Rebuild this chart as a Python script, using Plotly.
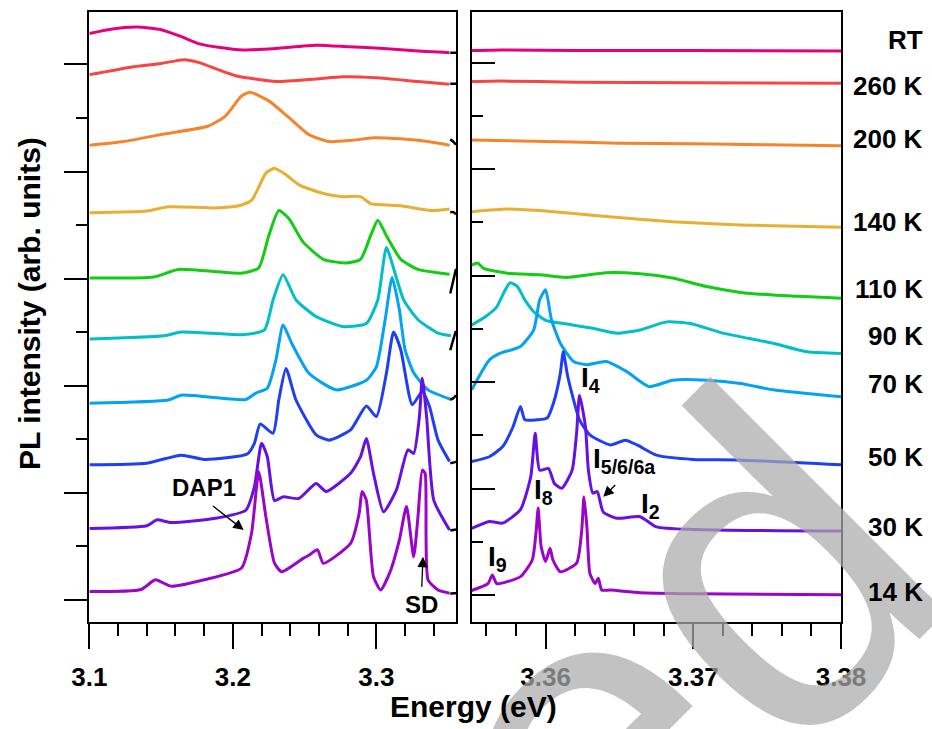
import plotly.graph_objects as go

# ---------------------------------------------------------------------------
# Temperature-dependent PL spectra, vertically stacked (arb. units).
# Low-energy window 3.10-3.355 eV and near-band-edge window 3.355-3.38 eV.
# ---------------------------------------------------------------------------
labels = ["RT", "260 K", "200 K", "140 K", "110 K", "90 K", "70 K", "50 K", "30 K", "14 K"]
colors = ["#E6007E", "#FA4343", "#F5842C", "#E9AF33", "#14CC14",
          "#00BFC6", "#03A3F2", "#1F3FF5", "#6610E2", "#9A05C9"]

# --- low-energy window ------------------------------------------------------
e_rt_lo = [3.100, 3.115, 3.133, 3.150, 3.164, 3.176, 3.190, 3.207, 3.230, 3.258, 3.281, 3.305, 3.329, 3.351]
pl_rt_lo = [10.58, 10.66, 10.70, 10.65, 10.52, 10.39, 10.32, 10.27, 10.30, 10.36, 10.33, 10.30, 10.25, 10.22]

e_260_lo = [3.100, 3.129, 3.150, 3.166, 3.176, 3.190, 3.202, 3.230, 3.258, 3.277, 3.300, 3.329, 3.351]
pl_260_lo = [9.81, 9.95, 10.02, 10.09, 10.04, 9.90, 9.79, 9.68, 9.73, 9.77, 9.75, 9.68, 9.63]

e_200_lo = [3.100, 3.124, 3.152, 3.183, 3.195, 3.206, 3.212, 3.225, 3.239, 3.253, 3.267, 3.282, 3.298, 3.317, 3.336, 3.351]
pl_200_lo = [8.49, 8.56, 8.70, 8.85, 9.04, 9.41, 9.48, 9.32, 9.01, 8.69, 8.56, 8.58, 8.63, 8.61, 8.56, 8.49]

e_140_lo = [3.100, 3.140, 3.155, 3.188, 3.204, 3.213, 3.223, 3.229, 3.237, 3.246, 3.263, 3.277, 3.289, 3.296, 3.317, 3.338, 3.351]
pl_140_lo = [7.23, 7.26, 7.34, 7.32, 7.36, 7.46, 7.97, 8.06, 7.94, 7.75, 7.59, 7.53, 7.53, 7.40, 7.36, 7.27, 7.30]

e_110_lo = [3.100, 3.145, 3.162, 3.206, 3.218, 3.225, 3.232, 3.239, 3.249, 3.263, 3.279, 3.289, 3.296, 3.301, 3.307, 3.317, 3.329, 3.351]
pl_110_lo = [6.01, 6.03, 6.17, 6.10, 6.20, 6.80, 7.27, 7.12, 6.68, 6.36, 6.29, 6.36, 6.80, 7.09, 6.80, 6.36, 6.17, 6.08]

e_90_lo = [3.100, 3.152, 3.164, 3.206, 3.222, 3.228, 3.235, 3.244, 3.258, 3.277, 3.293, 3.301, 3.307, 3.313, 3.319, 3.329, 3.343, 3.352]
pl_90_lo = [4.87, 4.93, 5.00, 4.95, 5.04, 5.60, 6.07, 5.60, 5.29, 5.10, 5.16, 5.60, 6.58, 6.10, 5.60, 5.23, 4.98, 4.93]

e_70_lo = [3.100, 3.155, 3.164, 3.209, 3.216, 3.224, 3.230, 3.235, 3.241, 3.253, 3.272, 3.293, 3.300, 3.306, 3.311, 3.316, 3.320, 3.326, 3.336, 3.352]
pl_70_lo = [3.67, 3.73, 3.82, 3.74, 3.86, 3.95, 4.48, 5.13, 4.79, 4.23, 3.92, 4.10, 4.35, 5.21, 6.02, 5.42, 4.67, 4.24, 3.92, 3.74]

e_50_lo = [3.100, 3.140, 3.164, 3.180, 3.210, 3.215, 3.219, 3.228, 3.232, 3.237, 3.244, 3.258, 3.267, 3.282, 3.293, 3.300,
           3.307, 3.312, 3.317, 3.325, 3.332, 3.337, 3.343, 3.351]
pl_50_lo = [2.52, 2.55, 2.70, 2.62, 2.72, 2.92, 3.28, 3.11, 3.73, 4.32, 3.73, 3.08, 2.98, 3.17, 3.62, 3.42,
            4.23, 5.00, 4.67, 3.64, 3.89, 3.61, 2.98, 2.58]

e_30_lo = [3.100, 3.140, 3.147, 3.157, 3.188, 3.209, 3.215, 3.220, 3.224, 3.229, 3.235, 3.246, 3.258, 3.265, 3.282,
           3.289, 3.293, 3.298, 3.305, 3.314, 3.322, 3.326, 3.330, 3.332, 3.335, 3.340, 3.351]
pl_30_lo = [1.33, 1.38, 1.49, 1.44, 1.52, 1.67, 2.11, 2.92, 2.67, 1.85, 1.92, 1.89, 2.17, 2.02, 2.36,
            2.67, 3.01, 2.36, 1.64, 2.05, 2.80, 2.73, 3.42, 4.14, 3.42, 1.86, 1.30]

e_14_lo = [3.100, 3.136, 3.146, 3.157, 3.180, 3.206, 3.213, 3.218, 3.223, 3.229, 3.234, 3.249, 3.253, 3.259, 3.263,
           3.282, 3.288, 3.290, 3.293, 3.298, 3.303, 3.310, 3.316, 3.321, 3.326, 3.329, 3.332, 3.334, 3.336, 3.343, 3.351]
pl_14_lo = [0.15, 0.19, 0.37, 0.25, 0.37, 0.59, 1.24, 2.39, 1.55, 0.68, 0.52, 0.77, 0.83, 0.93, 0.68,
            1.05, 1.61, 2.02, 1.86, 0.43, 0.18, 0.55, 1.11, 1.74, 0.80, 1.55, 2.42, 2.36, 0.37, 0.18, 0.12]

# --- near-band-edge window --------------------------------------------------
e_rt_hi = [3.355, 3.357, 3.362, 3.370, 3.380]
pl_rt_hi = [10.26, 10.27, 10.26, 10.26, 10.25]

e_260_hi = [3.355, 3.357, 3.362, 3.370, 3.380]
pl_260_hi = [9.68, 9.69, 9.67, 9.66, 9.65]

e_200_hi = [3.355, 3.360, 3.365, 3.370, 3.375, 3.380]
pl_200_hi = [8.59, 8.56, 8.53, 8.52, 8.50, 8.48]

e_140_hi = [3.355, 3.3574, 3.3596, 3.3641, 3.3686, 3.3732, 3.380]
pl_140_hi = [7.25, 7.30, 7.27, 7.16, 7.06, 7.00, 6.96]

e_110_hi = [3.3550, 3.3554, 3.3558, 3.3574, 3.3596, 3.3614, 3.3641, 3.3664, 3.3686, 3.3709, 3.3732, 3.3754, 3.3800]
pl_110_hi = [6.25, 6.29, 6.19, 6.10, 6.07, 6.02, 6.11, 6.09, 6.01, 5.85, 5.74, 5.69, 5.63]

e_90_hi = [3.3550, 3.3560, 3.3567, 3.3572, 3.3576, 3.3581, 3.3586, 3.3592, 3.3600, 3.3612, 3.3630, 3.3648, 3.3664,
           3.3682, 3.3698, 3.3720, 3.3754, 3.3777, 3.3800]
pl_90_hi = [5.13, 5.30, 5.47, 5.75, 5.92, 5.85, 5.60, 5.38, 5.22, 5.16, 5.08, 4.98, 5.04,
            5.19, 5.16, 4.98, 4.79, 4.63, 4.60]

e_70_hi = [3.3550, 3.3562, 3.3569, 3.3583, 3.3592, 3.3596, 3.3600, 3.3604, 3.3610, 3.3619, 3.3628, 3.3641, 3.3655,
           3.3670, 3.3686, 3.3709, 3.3732, 3.3754, 3.3800]
pl_70_hi = [3.92, 4.48, 4.60, 4.73, 5.04, 5.60, 5.79, 5.23, 4.79, 4.45, 4.39, 4.45, 4.26,
            3.98, 4.10, 4.10, 4.04, 3.92, 3.79]

e_50_hi = [3.3550, 3.3562, 3.3571, 3.3578, 3.3583, 3.3586, 3.3594, 3.3601, 3.3606, 3.3610, 3.3612, 3.3615, 3.3623,
           3.3630, 3.3644, 3.3654, 3.3662, 3.3675, 3.3700, 3.3730, 3.3800]
pl_50_hi = [2.58, 2.67, 2.86, 3.23, 3.61, 3.36, 3.36, 3.39, 3.73, 4.23, 4.63, 4.17, 3.36,
            3.08, 2.89, 2.98, 2.89, 2.70, 2.62, 2.61, 2.52]

e_30_hi = [3.3550, 3.3562, 3.3571, 3.3583, 3.3590, 3.3593, 3.3596, 3.3602, 3.3606, 3.3611, 3.3618, 3.3621, 3.3623,
           3.3627, 3.3629, 3.3632, 3.3635, 3.3639, 3.3648, 3.3664, 3.3675, 3.3700, 3.3800]
pl_30_hi = [1.33, 1.46, 1.43, 1.68, 2.30, 3.11, 2.42, 2.45, 2.17, 2.08, 2.42, 3.11, 3.82,
            3.23, 2.42, 1.99, 2.02, 1.64, 1.52, 1.55, 1.36, 1.31, 1.28]

e_14_hi = [3.3550, 3.3561, 3.3564, 3.3567, 3.3583, 3.3591, 3.35935, 3.3595, 3.3597, 3.3600, 3.3603, 3.3605, 3.3610,
           3.3621, 3.36245, 3.3626, 3.3628, 3.3630, 3.36335, 3.36357, 3.3638, 3.3644, 3.3664, 3.3700, 3.3800]
pl_14_hi = [0.17, 0.30, 0.46, 0.30, 0.43, 0.74, 1.24, 1.71, 0.99, 0.71, 0.96, 0.74, 0.52,
            0.68, 1.30, 1.92, 1.36, 0.49, 0.30, 0.40, 0.18, 0.18, 0.13, 0.11, 0.09]

# short dark strokes at the right edge of the low-energy window
e_edge = [3.3515, 3.3535, 3.3555]
pl_edge_rt = [10.22, 10.22, 10.22]
pl_edge_260 = [9.64, 9.64, 9.64]
pl_edge_200 = [8.60, 8.56, 8.50]
pl_edge_140 = [7.24, 7.24, 7.20]
pl_edge_110 = [5.72, 5.95, 6.18]
pl_edge_90 = [4.66, 4.85, 5.02]
pl_edge_70 = [3.74, 3.76, 3.82]
pl_edge_50 = [2.55, 2.56, 2.58]
pl_edge_30 = [1.29, 1.30, 1.31]
pl_edge_14 = [0.11, 0.12, 0.12]

lo_sets = [(e_rt_lo, pl_rt_lo), (e_260_lo, pl_260_lo), (e_200_lo, pl_200_lo), (e_140_lo, pl_140_lo),
           (e_110_lo, pl_110_lo), (e_90_lo, pl_90_lo), (e_70_lo, pl_70_lo), (e_50_lo, pl_50_lo),
           (e_30_lo, pl_30_lo), (e_14_lo, pl_14_lo)]
hi_sets = [(e_rt_hi, pl_rt_hi), (e_260_hi, pl_260_hi), (e_200_hi, pl_200_hi), (e_140_hi, pl_140_hi),
           (e_110_hi, pl_110_hi), (e_90_hi, pl_90_hi), (e_70_hi, pl_70_hi), (e_50_hi, pl_50_hi),
           (e_30_hi, pl_30_hi), (e_14_hi, pl_14_hi)]
edge_sets = [pl_edge_rt, pl_edge_260, pl_edge_200, pl_edge_140, pl_edge_110,
             pl_edge_90, pl_edge_70, pl_edge_50, pl_edge_30, pl_edge_14]

# label heights (px from top) for the temperature column
label_px = [40, 86, 139, 222, 289, 336, 384, 457, 527, 592]

W, H = 932, 729
FONT = "Liberation Sans, Arial, Helvetica, sans-serif"

fig = go.Figure()

for (e, p), col in zip(lo_sets, colors):
    fig.add_trace(go.Scatter(x=e, y=p, mode="lines", xaxis="x", yaxis="y",
                             line=dict(color=col, width=3, shape="spline", smoothing=0.55),
                             showlegend=False, hoverinfo="skip"))
for p in edge_sets:
    fig.add_trace(go.Scatter(x=e_edge, y=p, mode="lines", xaxis="x", yaxis="y",
                             line=dict(color="black", width=2.5, shape="spline"),
                             showlegend=False, hoverinfo="skip"))
for (e, p), col in zip(hi_sets, colors):
    fig.add_trace(go.Scatter(x=e, y=p, mode="lines", xaxis="x2", yaxis="y2",
                             line=dict(color=col, width=3, shape="spline", smoothing=0.55),
                             showlegend=False, hoverinfo="skip"))

# plot-area geometry (pixels)
x1l, x1r = 89.4, 456.0
x2l, x2r = 471.7, 841.0
ytop, ybot = 11.5, 621.5
ydom = [(H - ybot) / H, (H - ytop) / H]
yrange = [-0.409, 10.99]

tickfont = dict(family=FONT, size=26, color="black", weight="bold")
common_x = dict(showline=True, linecolor="black", linewidth=2, mirror=True, showgrid=False,
                zeroline=False, ticks="outside", ticklen=25, tickwidth=2, tickcolor="black",
                tickfont=tickfont, ticklabelstandoff=6, automargin=False)

fig.update_layout(
    width=W, height=H, autosize=False,
    margin=dict(l=0, r=0, t=0, b=0, autoexpand=False),
    paper_bgcolor="white", plot_bgcolor="white",
    xaxis=dict(domain=[x1l / W, x1r / W], range=[3.1, 3.3555], anchor="y",
               tickmode="array", tickvals=[3.1, 3.2, 3.3], ticktext=["3.1", "3.2", "3.3"],
               minor=dict(dtick=0.02, tick0=3.1, ticks="outside", ticklen=12, tickwidth=2,
                          tickcolor="black", showgrid=False),
               **common_x),
    xaxis2=dict(domain=[x2l / W, x2r / W], range=[3.355, 3.38], anchor="y2",
                tickmode="array", tickvals=[3.36, 3.37, 3.38], ticktext=["3.36", "3.37", "3.38"],
                minor=dict(dtick=0.002, tick0=3.354, ticks="outside", ticklen=12, tickwidth=2,
                           tickcolor="black", showgrid=False),
                **common_x),
    yaxis=dict(domain=ydom, range=yrange, anchor="x", showline=True, linecolor="black",
               linewidth=2, mirror=True, showgrid=False, zeroline=False, showticklabels=False,
               automargin=False,
               ticks="outside", ticklen=23, tickwidth=2, tickcolor="black", tick0=0, dtick=2,
               minor=dict(tick0=0, dtick=1, ticks="outside", ticklen=11, tickwidth=2,
                          tickcolor="black", showgrid=False)),
    yaxis2=dict(domain=ydom, range=yrange, anchor="x2", showline=True, linecolor="black",
                linewidth=2, mirror=True, showgrid=False, zeroline=False, showticklabels=False,
                automargin=False,
                ticks="inside", ticklen=23, tickwidth=2, tickcolor="black", tick0=0.086, dtick=1.99,
                minor=dict(tick0=0.086, dtick=0.995, ticks="inside", ticklen=11, tickwidth=2,
                           tickcolor="black", showgrid=False)),
)

ann = []
# faint diagonal "Accepted" stamp across the lower right
ann.append(dict(text="Accepted", xref="paper", yref="paper", x=178 / W, y=(H - 1157) / H,
                xanchor="center", yanchor="middle", textangle=-45, showarrow=False,
                font=dict(family=FONT, size=460, color="rgba(170,170,170,0.72)")))
# axis titles
ann.append(dict(text="Energy (eV)", xref="paper", yref="paper", x=474 / W, y=(H - 706) / H,
                xanchor="center", yanchor="middle", showarrow=False,
                font=dict(family=FONT, size=30, color="black", weight="bold")))
ann.append(dict(text="PL intensity (arb. units)", xref="paper", yref="paper", x=30 / W, y=(H - 304) / H,
                xanchor="center", yanchor="middle", textangle=-90, showarrow=False,
                font=dict(family=FONT, size=30, color="black", weight="bold")))
# temperature labels
for lab, py in zip(labels, label_px):
    ann.append(dict(text=lab, xref="paper", yref="paper", x=925 / W, y=(H - py) / H,
                    xanchor="right", yanchor="middle", showarrow=False,
                    font=dict(family=FONT, size=26, color="black", weight="bold")))

lab_font = dict(family=FONT, size=24, color="black", weight="bold")
sub_font = dict(family=FONT, size=28, color="black", weight="bold")
# feature labels, low-energy window
ann.append(dict(text="DAP1", xref="x", yref="y", x=3.180, y=2.09, showarrow=False, font=lab_font))
ann.append(dict(text="", xref="x", yref="y", x=3.2075, y=1.30, axref="x", ayref="y", ax=3.1851, ay=1.77,
                showarrow=True, arrowhead=2, arrowsize=1.6, arrowwidth=1.3, arrowcolor="black", standoff=0))
ann.append(dict(text="SD", xref="x", yref="y", x=3.3316, y=-0.10, showarrow=False, font=lab_font))
ann.append(dict(text="", xref="x", yref="y", x=3.3325, y=0.80, axref="x", ayref="y", ax=3.3316, ay=0.21,
                showarrow=True, arrowhead=2, arrowsize=1.6, arrowwidth=1.3, arrowcolor="black", standoff=0))
# feature labels, near-band-edge window
for txt, ex, ey in [("I<sub>4</sub>", 3.36225, 4.12), ("I<sub>5/6/6a</sub>", 3.36305, 2.60),
                    ("I<sub>8</sub>", 3.35905, 2.02), ("I<sub>2</sub>", 3.36635, 1.76),
                    ("I<sub>9</sub>", 3.35600, 0.76)]:
    ann.append(dict(text=txt, xref="x2", yref="y2", x=ex, y=ey, xanchor="left", yanchor="middle",
                    showarrow=False, font=sub_font))
ann.append(dict(text="", xref="x2", yref="y2", x=3.36391, y=1.92, axref="x2", ayref="y2", ax=3.36482, ay=2.17,
                showarrow=True, arrowhead=2, arrowsize=1.6, arrowwidth=1.3, arrowcolor="black", standoff=0))

fig.update_layout(annotations=ann)
fig.write_html("out.html")
